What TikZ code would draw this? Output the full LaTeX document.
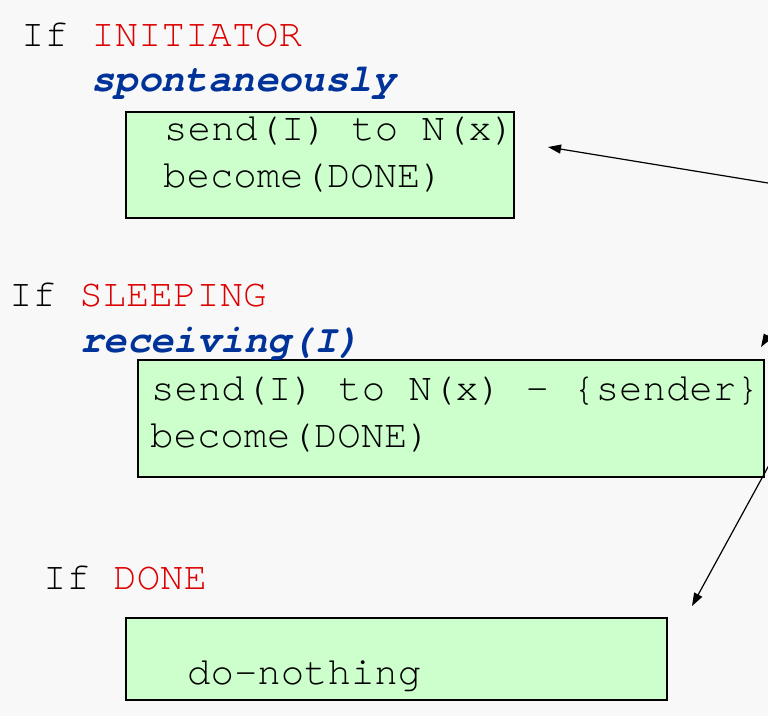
\documentclass[tikz,border=0pt]{standalone}
\usepackage{fontspec}
\newfontfamily\monofam{TeX Gyre Cursor}
\usetikzlibrary{arrows.meta}
\definecolor{bgcol}{RGB}{248,248,248}
\definecolor{boxfill}{RGB}{204,255,204}
\definecolor{statered}{RGB}{220,0,0}
\definecolor{eventblue}{RGB}{0,51,153}
\tikzset{
  txt/.style={anchor=base west, inner sep=0pt, font=\monofam\fontsize{39}{47}\selectfont},
  evt/.style={txt, text=eventblue, font=\monofam\bfseries\itshape\fontsize{39}{47}\selectfont},
  greenbox/.style={draw=black, line width=1.8pt, fill=boxfill, anchor=north west, inner sep=0pt},
  arr/.style={line width=1.2pt, -{Triangle[length=13pt,width=9pt]}}
}
\begin{document}
\begin{tikzpicture}[x=1pt,y=-1pt]
\useasboundingbox (0,0) rectangle (768,716);
\fill[bgcol] (0,0) rectangle (768,716);
% boxes
\node[greenbox, minimum width=388pt, minimum height=106pt] (box1) at (125,111) {};
\node[greenbox, minimum width=626pt, minimum height=117pt] (box2) at (137,359) {};
\node[greenbox, minimum width=541pt, minimum height=82pt] (box3) at (125,617) {};
% texts
\node[txt] (h1) at (21,46) {If \textcolor{statered}{INITIATOR}};
\node[evt] (e1) at (91,91) {spontaneously};
\node[txt] (b1a) at (164,140) {send(I) to N(x)};
\node[txt] (b1b) at (163,187) {become(DONE)};
\node[txt] (h2) at (9,306) {If \textcolor{statered}{SLEEPING}};
\node[evt] (e2) at (80,352) {receiving(I)};
\node[txt] (b2a) at (151,400) {send(I) to N(x) - \{sender\}};
\node[txt] (b2b) at (150,447) {become(DONE)};
\node[txt] (h3) at (43,589) {If \textcolor{statered}{DONE}};
\node[txt] (b3a) at (187,684) {do-nothing};
% arrows
\coordinate (a1s) at (790,186.6);
\coordinate (a1e) at (548,147);
\coordinate (a2s) at (790,300);
\coordinate (a2e) at (761,347);
\coordinate (a3s) at (780,445);
\coordinate (a3e) at (692,606);
\draw[arr] (a1s) -- (a1e);
\draw[arr] (a2s) -- (a2e);
\draw[arr] (a3s) -- (a3e);
\end{tikzpicture}
\end{document}
